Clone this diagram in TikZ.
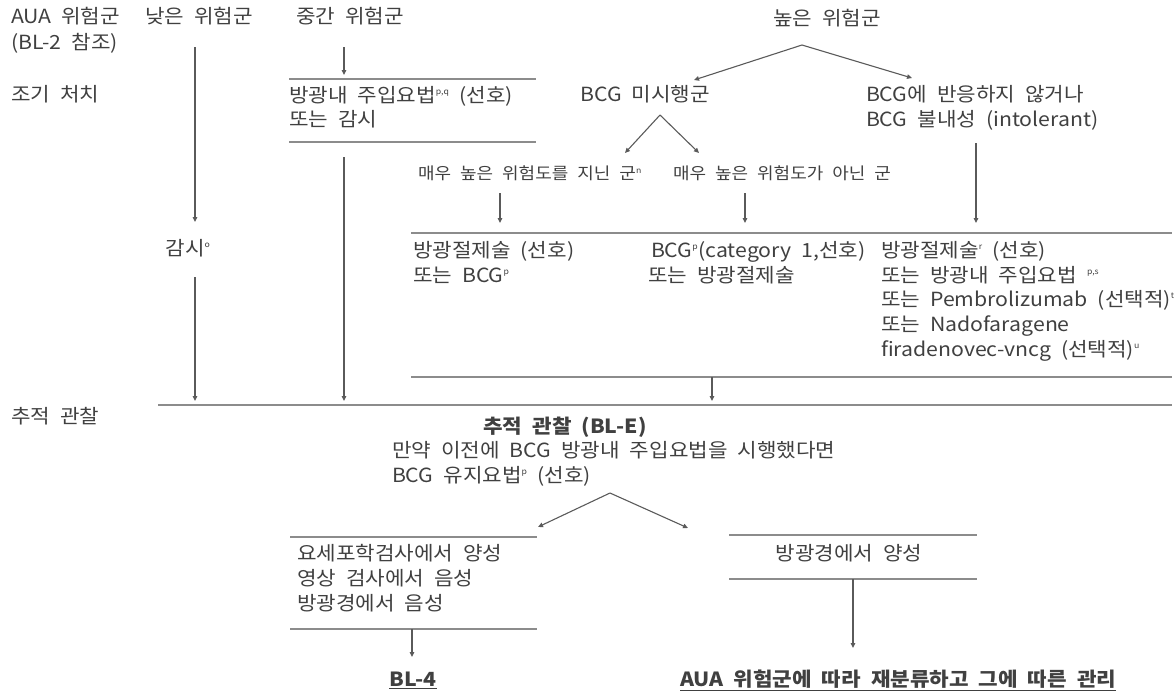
\documentclass[tikz,border=0pt]{standalone}
\usepackage{fontspec}
\setmainfont{Noto Sans CJK KR}[FakeStretch=1.09]
\usetikzlibrary{arrows.meta}
\definecolor{txt}{HTML}{404040}
\definecolor{rule}{HTML}{8C8C8C}
\definecolor{link}{HTML}{5A5A5A}
\newcommand{\bodyfont}{\fontsize{19.5}{25}\selectfont\spaceskip=10pt plus 1pt\relax}
\newcommand{\smallbody}{\fontsize{16.5}{22}\selectfont\spaceskip=9pt plus 1pt\relax}
\newcommand{\sps}[1]{\textsuperscript{\fontsize{8}{8}\selectfont #1}}
\begin{document}
\begin{tikzpicture}[x=1pt,y=-1pt,
  every node/.style={inner sep=0pt,outer sep=0pt,text=txt,font=\bodyfont,
    text height=0.8em,text depth=0.1em},
  lbl/.style={anchor=west},
  ctr/.style={anchor=center},
  heavy/.style={font=\bodyfont\bfseries},
  hrule/.style={draw=rule,line width=1.8pt},
  flow/.style={draw=link,line width=1.1pt,-{Triangle[length=5pt,width=4.5pt]}}]
\useasboundingbox (0,0) rectangle (1176,697);

% column headings and row labels
\node[lbl] (aua) at (11,20) {AUA 위험군};
\node[lbl] (bl2) at (11,46) {(BL-2 참조)};
\node[lbl] (low) at (145,20) {낮은 위험군};
\node[lbl] (mid) at (296,20) {중간 위험군};
\node[ctr] (high) at (827,22) {높은 위험군};
\node[lbl] (init) at (11,98) {조기 처치};
\node[lbl] (fuL) at (11,420) {추적 관찰};

% low risk branch
\coordinate (lowA) at (195,47);
\coordinate (lowB) at (195,222);
\node[ctr] (watch) at (188,252) {감시\sps{o}};
\coordinate (lowC) at (195,277);
\coordinate (lowD) at (195,401);
\draw[flow] (lowA) -- (lowB);
\draw[flow] (lowC) -- (lowD);

% intermediate risk branch
\coordinate (midA) at (344,47);
\coordinate (midB) at (344,75);
\draw[flow] (midA) -- (midB);
\coordinate (mt1) at (289,79); \coordinate (mt2) at (536,79);
\draw[hrule] (mt1) -- (mt2);
\node[lbl] (midT1) at (289,99) {방광내 주입요법\sps{p,q} (선호)};
\node[lbl] (midT2) at (289,123) {또는 감시};
\coordinate (mb1) at (289,142); \coordinate (mb2) at (536,142);
\draw[hrule] (mb1) -- (mb2);
\coordinate (midC) at (344,157);
\coordinate (midD) at (344,401);
\draw[flow] (midC) -- (midD);

% high risk branch
\coordinate (hApex) at (802,45);
\coordinate (hL) at (694,80);
\coordinate (hR) at (912,78);
\draw[flow] (hApex) -- (hL);
\draw[flow] (hApex) -- (hR);
\node[ctr] (naive) at (645,98) {BCG 미시행군};
\node[lbl] (unres1) at (866,98) {BCG에 반응하지 않거나};
\node[lbl] (unres2) at (866,123) {BCG 불내성 (intolerant)};
\coordinate (nApex) at (660,115);
\coordinate (nL) at (625,153);
\coordinate (nR) at (699,153);
\draw[flow] (nApex) -- (nL);
\draw[flow] (nApex) -- (nR);
\node[lbl,font=\smallbody] (vhigh) at (418,176) {매우 높은 위험도를 지닌 군\sps{n}};
\node[lbl,font=\smallbody] (nvhigh) at (673,176) {매우 높은 위험도가 아닌 군};
\coordinate (vA) at (500,193); \coordinate (vB) at (500,223);
\coordinate (nvA) at (745,193); \coordinate (nvB) at (745,223);
\coordinate (uA) at (976,143); \coordinate (uB) at (976,223);
\draw[flow] (vA) -- (vB);
\draw[flow] (nvA) -- (nvB);
\draw[flow] (uA) -- (uB);
\coordinate (ht1) at (411,233); \coordinate (ht2) at (1172,233);
\draw[hrule] (ht1) -- (ht2);
\node[lbl] (trtA1) at (413,254) {방광절제술 (선호)};
\node[lbl] (trtA2) at (413,279) {또는 BCG\sps{p}};
\node[lbl] (trtB1) at (651,254) {BCG\sps{p}(category 1,선호)};
\node[lbl] (trtB2) at (648,279) {또는 방광절제술};
\node[lbl] (trtC1) at (881,254) {방광절제술\sps{r} (선호)};
\node[lbl] (trtC2) at (881,279) {또는 방광내 주입요법 \sps{p,s}};
\node[lbl] (trtC3) at (881,303) {또는 Pembrolizumab (선택적)\sps{t}};
\node[lbl] (trtC4) at (881,328) {또는 Nadofaragene};
\node[lbl] (trtC5) at (881,353) {firadenovec-vncg (선택적)\sps{u}};
\coordinate (hb1) at (411,377); \coordinate (hb2) at (1172,377);
\draw[hrule] (hb1) -- (hb2);
\coordinate (hbA) at (712,377); \coordinate (hbB) at (712,401);
\draw[flow] (hbA) -- (hbB);

% follow-up
\coordinate (fu1) at (158,405); \coordinate (fu2) at (1172,405);
\draw[hrule] (fu1) -- (fu2);
\node[ctr,heavy] (fuT) at (565,430) {추적 관찰 (BL-E)};
\node[lbl] (fuA) at (392,454) {만약 이전에 BCG 방광내 주입요법을 시행했다면};
\node[lbl] (fuB) at (392,479) {BCG 유지요법\sps{p} (선호)};
\coordinate (fApex) at (610,493);
\coordinate (fL) at (538,527);
\coordinate (fR) at (688,528);
\draw[flow] (fApex) -- (fL);
\draw[flow] (fApex) -- (fR);

% negative cystoscopy
\coordinate (lt1) at (290,537); \coordinate (lt2) at (537,537);
\draw[hrule] (lt1) -- (lt2);
\node[lbl] (neg1) at (297,557) {요세포학검사에서 양성};
\node[lbl] (neg2) at (297,582) {영상 검사에서 음성};
\node[lbl] (neg3) at (297,607) {방광경에서 음성};
\coordinate (lb1) at (290,629); \coordinate (lb2) at (537,629);
\draw[hrule] (lb1) -- (lb2);
\coordinate (lA) at (412,629); \coordinate (lB) at (412,657);
\draw[flow] (lA) -- (lB);
\node[ctr,heavy] (bl4) at (413,683) {\underline{BL-4}};

% positive cystoscopy
\coordinate (rt1) at (729,535); \coordinate (rt2) at (977,535);
\draw[hrule] (rt1) -- (rt2);
\node[ctr] (pos) at (849,557) {방광경에서 양성};
\coordinate (rb1) at (729,579); \coordinate (rb2) at (977,579);
\draw[hrule] (rb1) -- (rb2);
\coordinate (rA) at (853,579); \coordinate (rB) at (853,648);
\draw[flow] (rA) -- (rB);
\node[lbl,heavy] (recl) at (680,683) {\underline{AUA 위험군에 따라 재분류하고 그에 따른 관리}};
\end{tikzpicture}
\end{document}
